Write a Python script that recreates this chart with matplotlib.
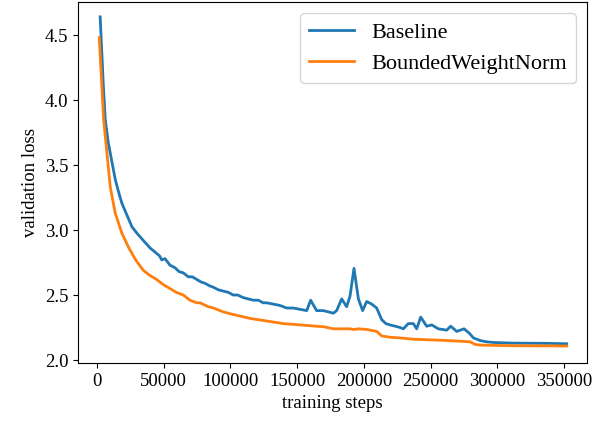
import matplotlib
matplotlib.use("Agg")
from matplotlib import pyplot as plt

# validation loss (steps, loss)
baseline_steps = [2400, 4700, 6200, 8500, 10000, 13700, 16000, 18700, 23500, 26200,
                  30000, 34700, 40000, 44700, 47000, 48500, 51000, 54700, 58500, 61500,
                  64700, 68500, 71500, 74700, 78000, 81000, 84500, 87200, 91000, 94700,
                  98500, 102100, 105500, 109600, 113500, 117100, 121000, 124500, 127200,
                  132100, 137000, 142200, 147000, 152100, 157200, 160100, 164600, 169600,
                  173500, 177100, 179600, 183400, 187100, 189600, 192600, 195900, 199100,
                  202100, 205900, 209600, 213400, 216500, 219600, 223500, 227100, 229600,
                  233300, 237100, 239600, 242600, 247100, 250900, 255800, 262100, 265100,
                  269600, 275100, 279100, 282100, 287100, 292000, 297100, 305000, 312100,
                  325000, 337100, 352000]
baseline_loss = [4.64, 4.13, 3.85, 3.67, 3.59, 3.39, 3.30, 3.205, 3.09, 3.025,
                 2.975, 2.92, 2.86, 2.82, 2.80, 2.77, 2.78, 2.73, 2.71, 2.68,
                 2.67, 2.64, 2.64, 2.62, 2.60, 2.59, 2.57, 2.56, 2.54, 2.53,
                 2.52, 2.50, 2.50, 2.48, 2.47, 2.46, 2.46, 2.44, 2.44,
                 2.43, 2.42, 2.40, 2.40, 2.39, 2.38, 2.46, 2.38, 2.38,
                 2.37, 2.36, 2.38, 2.47, 2.41, 2.49, 2.705, 2.47, 2.38,
                 2.45, 2.43, 2.40, 2.31, 2.28, 2.27, 2.26, 2.25, 2.24,
                 2.28, 2.28, 2.24, 2.33, 2.26, 2.27, 2.24, 2.23, 2.26,
                 2.22, 2.24, 2.205, 2.17, 2.15, 2.14, 2.135, 2.132, 2.13,
                 2.129, 2.128, 2.125]

bwn_steps = [1700, 5000, 7500, 10000, 13700, 18700, 24000, 29000, 34700,
             39700, 44700, 49700, 54700, 59500, 64700, 69700, 74700, 77200, 83400,
             87200, 94700, 102100, 108500, 114700, 121000, 127200, 133500, 139600,
             146000, 152100, 158500, 164600, 170500, 177100, 183500, 189600, 192500,
             196000, 202100, 209600, 213400, 219600, 227100, 237100, 249600, 262100,
             279600, 283300, 287100, 300000, 312100, 330000, 352000]
bwn_loss = [4.48, 3.85, 3.59, 3.33, 3.13, 2.975, 2.86, 2.77, 2.69,
            2.65, 2.62, 2.58, 2.55, 2.52, 2.50, 2.46, 2.44, 2.44, 2.41,
            2.40, 2.37, 2.35, 2.335, 2.32, 2.31, 2.30, 2.29, 2.28,
            2.275, 2.27, 2.265, 2.26, 2.255, 2.24, 2.24, 2.24, 2.235,
            2.24, 2.235, 2.22, 2.185, 2.175, 2.17, 2.16, 2.155, 2.15,
            2.14, 2.12, 2.115, 2.112, 2.11, 2.109, 2.108]

plt.rcParams['font.family'] = ['Liberation Serif', 'DejaVu Serif']
plt.rcParams['font.size'] = 13.5

fig = plt.figure(figsize=(5.94, 4.25), dpi=100)
ax = fig.add_axes([78 / 594, 1 - 363 / 425, (587 - 78) / 594, (363 - 2) / 425])

ax.plot(baseline_steps, baseline_loss, color="tab:blue", lw=2, label="Baseline")
ax.plot(bwn_steps, bwn_loss, color="tab:orange", lw=2, label="BoundedWeightNorm")

ax.set_xlim(-14200, 367200)
ax.set_ylim(1.977, 4.754)
ax.set_xticks([0, 50000, 100000, 150000, 200000, 250000, 300000, 350000])
ax.set_yticks([2.0, 2.5, 3.0, 3.5, 4.0, 4.5])
ax.set_xlabel("training steps")
ax.set_ylabel("validation loss")
ax.legend(loc="upper right", fontsize=16)

fig.savefig("out.png", dpi=100)
